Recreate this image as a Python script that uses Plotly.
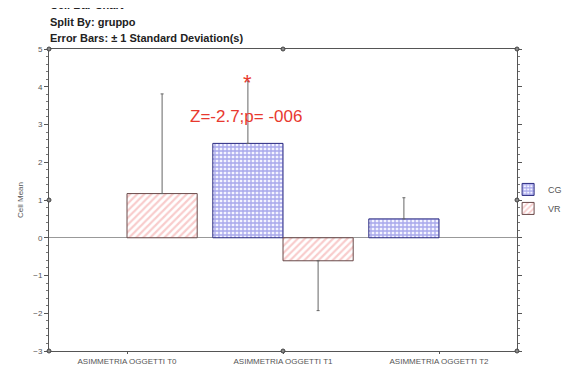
import plotly.graph_objects as go

categories = ["ASIMMETRIA OGGETTI T0", "ASIMMETRIA OGGETTI T1", "ASIMMETRIA OGGETTI T2"]
cg_mean = [None, 2.5, 0.5]
cg_sd = [0, 1.65, 0.56]
vr_mean = [1.17, -0.61, None]
vr_sd = [2.64, 1.32, 0]
y_ticks = [-3, -2, -1, 0, 1, 2, 3, 4, 5]
title_lines = ["Cell Bar Chart", "Split By: gruppo", "Error Bars: ± 1 Standard Deviation(s)"]

def up(m, s):
    return [s_ if (m_ is not None and m_ >= 0) else 0 for m_, s_ in zip(m, s)]

def down(m, s):
    return [s_ if (m_ is not None and m_ < 0) else 0 for m_, s_ in zip(m, s)]

FONT = "Liberation Sans, Arial"
fig = go.Figure()
err_style = dict(type="data", symmetric=False, color="#666666", thickness=1, width=1.5)
fig.add_trace(go.Bar(
    x=categories, y=cg_mean, name="CG",
    marker=dict(color="white", line=dict(color="#2a2a80", width=1),
                pattern=dict(shape="+", fgcolor="#5a5ad8", bgcolor="#f4f4ff", size=4, solidity=0.55)),
    error_y=dict(array=up(cg_mean, cg_sd), arrayminus=down(cg_mean, cg_sd), **err_style),
))
fig.add_trace(go.Bar(
    x=categories, y=vr_mean, name="VR",
    marker=dict(color="white", line=dict(color="#6a4a4a", width=1),
                pattern=dict(shape="/", fgcolor="#f29a9a", bgcolor="white", size=5, solidity=0.45)),
    error_y=dict(array=up(vr_mean, vr_sd), arrayminus=down(vr_mean, vr_sd), **err_style),
))

fig.add_annotation(x=0.76, y=3.2, xref="x", yref="y", text="Z=-2.7;p= -006", showarrow=False,
                   font=dict(family=FONT, size=17, color="#e8392f"))
fig.add_annotation(x=0.77, y=4.1, xref="x", yref="y", text="*", showarrow=False,
                   font=dict(family=FONT, size=22, color="#e8392f"))

for i, line in enumerate(title_lines):
    fig.add_annotation(x=0.0, y=1.0, xref="paper", yref="paper", text="<b>" + line + "</b>",
                       showarrow=False, align="left", xanchor="left", yanchor="middle",
                       xshift=-1, yshift=44 - 16.5 * i,
                       font=dict(family=FONT, size=11, color="#222222"))

# selection handles on frame
handles = [(0, 1), (0, 0.5), (0, 0), (1, 0.5), (0.5, 1), (1, 1), (0.5, 0), (1, 0)]
for hx, hy in handles:
    fig.add_shape(type="circle", xref="paper", yref="paper", xsizemode="pixel", ysizemode="pixel",
                  xanchor=hx, yanchor=hy, x0=-2, x1=2, y0=-2, y1=2,
                  line=dict(color="#444444", width=1), fillcolor="#888888")

fig.update_layout(
    width=565, height=363,
    margin=dict(l=41, r=56, t=41, b=20, autoexpand=False),
    plot_bgcolor="white", paper_bgcolor="white",
    barmode="group", bargap=0.1, bargroupgap=0,
    font=dict(family=FONT, size=9, color="#333333"),
    showlegend=True,
    legend=dict(x=0.981, y=0.583, xanchor="left", yanchor="top", font=dict(size=9, color="#555555"),
                itemwidth=30, tracegroupgap=0, bgcolor="rgba(0,0,0,0)"),
    xaxis=dict(showline=True, linecolor="#555555", linewidth=1, mirror=True, automargin=False,
               ticks="outside", ticklen=2, tickcolor="#555555",
               tickfont=dict(size=8, color="#555555"), showgrid=False),
    yaxis=dict(range=[-3, 5], tickvals=y_ticks, showline=True, linecolor="#555555", linewidth=1,
               mirror="ticks", ticks="outside", ticklen=4, tickcolor="#555555", automargin=False,
               minor=dict(dtick=0.2, ticks="outside", ticklen=2, tickcolor="#777777"),
               tickfont=dict(size=8, color="#555555"), showgrid=False,
               zeroline=True, zerolinecolor="#999999", zerolinewidth=1,
               title=dict(text="Cell Mean", font=dict(size=8, color="#555555"), standoff=8)),
)
fig.write_html("out.html")
